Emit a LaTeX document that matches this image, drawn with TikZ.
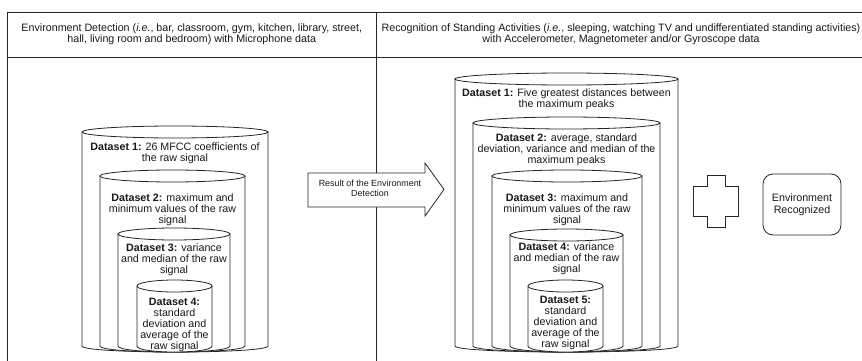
\documentclass[tikz,border=0pt]{standalone}
\usepackage{fontspec}
\setmainfont{Liberation Sans}

% Cylinder (database) symbol: left x, right x, top y, bottom y of the sides
\newcommand\dbcyl[4]{%
  \pgfmathsetmacro\cylcx{(#1+#2)/2}%
  \pgfmathsetmacro\cylrx{(#2-#1)/2}%
  \draw[cyl] (#1,#3+6) -- (#1,#4) .. controls (#1,#4+8) and (#2,#4+8) .. (#2,#4) -- (#2,#3+6) -- cycle;
  \draw[cyl] (\cylcx,#3+6) ellipse [x radius=\cylrx, y radius=6];
}

\begin{document}
\begin{tikzpicture}[x=1pt,y=-1pt,
  line/.style={draw=black!85, line width=0.8pt},
  cyl/.style={line, fill=white},
  dstext/.style={inner sep=0pt, align=center, anchor=north, text=black!90,
                 font=\fontsize{10.7}{11}\selectfont},
  hdtext/.style={inner sep=0pt, align=center, text=black!90,
                 font=\fontsize{10.7}{11}\selectfont},
  smalltext/.style={inner sep=0pt, align=center, text=black!90,
                 font=\fontsize{8.9}{10}\selectfont},
]
\clip (0,0) rectangle (862,361);
\fill[white] (0,0) rectangle (862,361);

% table frame
\draw[line] (7.5,370) -- (7.5,12.5) -- (880,12.5);
\draw[line] (7.5,57) -- (880,57);
\draw[line] (376,12.5) -- (376,370);

% column headers
\node[hdtext] (hl) at (191.75,34.5) {Environment Detection (\textit{i.e.}, bar, classroom, gym, kitchen, library, street,\\hall, living room and bedroom) with Microphone data};
\node[hdtext] (hr) at (621,34.5) {Recognition of Standing Activities (\textit{i.e.}, sleeping, watching TV and undifferentiated standing activities)\\with Accelerometer, Magnetometer and/or Gyroscope data};

% nested datasets, microphone
\dbcyl{82}{268}{126}{346}
\dbcyl{100}{245}{170}{346}
\dbcyl{118}{230}{228}{346}
\dbcyl{137}{212}{280}{346}
\node[dstext] (l1) at (175,143) {\textbf{Dataset 1:} 26 MFCC coefficients of\\the raw signal};
\node[dstext] (l2) at (172.5,194) {\textbf{Dataset 2:} maximum and\\minimum values of the raw\\signal};
\node[dstext] (l3) at (174,244) {\textbf{Dataset 3:} variance\\and median of the raw\\signal};
\node[dstext] (l4) at (174.5,298) {\textbf{Dataset 4:}\\standard\\deviation and\\average of the\\raw signal};

% nested datasets, motion sensors
\dbcyl{455}{678}{73}{346}
\dbcyl{473}{660}{117}{346}
\dbcyl{492}{642}{170}{346}
\dbcyl{510}{623}{229}{346}
\dbcyl{528}{603}{280}{346}
\node[dstext] (r1) at (566.5,89) {\textbf{Dataset 1:} Five greatest distances between\\the maximum peaks};
\node[dstext] (r2) at (566.5,134) {\textbf{Dataset 2:} average, standard\\deviation, variance and median of the\\maximum peaks};
\node[dstext] (r3) at (567,194) {\textbf{Dataset 3:} maximum and\\minimum values of the raw\\signal};
\node[dstext] (r4) at (566.5,243) {\textbf{Dataset 4:} variance\\and median of the raw\\signal};
\node[dstext] (r5) at (565.5,296) {\textbf{Dataset 5:}\\standard\\deviation and\\average of the\\raw signal};

% block arrow between the columns
\draw[line, fill=white] (308,173) -- (425,173) -- (425,163) -- (444,189.5)
  -- (425,216) -- (425,207) -- (308,207) -- cycle;
\node[smalltext] (res) at (370,188) {Result of the Environment\\Detection};

% plus sign
\draw[line, fill=white] (707,175) -- (725,175) -- (725,186) -- (738,186) -- (738,216)
  -- (725,216) -- (725,227) -- (707,227) -- (707,216) -- (693,216) -- (693,186)
  -- (707,186) -- cycle;

% result box
\node[line, rounded corners=10pt, minimum width=78pt, minimum height=61pt,
      align=center, inner sep=0pt, text=black!90, font=\fontsize{10.7}{12.5}\selectfont]
      (env) at (802,204.5) {Environment\\Recognized};
\end{tikzpicture}
\end{document}
